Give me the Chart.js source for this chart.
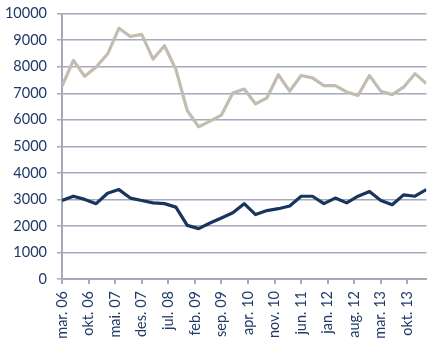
<!DOCTYPE html>
<html>
<head>
<meta charset="utf-8">
<script src="https://cdn.jsdelivr.net/npm/chart.js@4"></script>
<style>
  html, body { margin: 0; padding: 0; background: #fff; overflow: hidden; }
  #wrap { width: 432px; height: 353px; margin-top: -5px; }
</style>
</head>
<body>
<div id="wrap"><canvas id="chart"></canvas></div>
<script>
// Quarterly observations, mar. 06 to mar. 14
const quarters = [
  'mar. 06', 'jun. 06', 'sep. 06', 'des. 06',
  'mar. 07', 'jun. 07', 'sep. 07', 'des. 07',
  'mar. 08', 'jun. 08', 'sep. 08', 'des. 08',
  'mar. 09', 'jun. 09', 'sep. 09', 'des. 09',
  'mar. 10', 'jun. 10', 'sep. 10', 'des. 10',
  'mar. 11', 'jun. 11', 'sep. 11', 'des. 11',
  'mar. 12', 'jun. 12', 'sep. 12', 'des. 12',
  'mar. 13', 'jun. 13', 'sep. 13', 'des. 13',
  'mar. 14'
];

const upperSeries = [
  7270, 8240, 7640, 7990, 8480, 9450, 9140, 9220,
  8290, 8790, 7900, 6350, 5740, 5950, 6180, 7010,
  7160, 6600, 6830, 7700, 7080, 7670, 7580, 7290,
  7290, 7050, 6920, 7670, 7080, 6950, 7230, 7740,
  7370
];

const lowerSeries = [
  2960, 3120, 3000, 2840, 3230, 3370, 3050, 2960,
  2870, 2840, 2710, 2020, 1900, 2110, 2300, 2500,
  2840, 2430, 2580, 2650, 2750, 3120, 3120, 2840,
  3050, 2870, 3120, 3300, 2960, 2800, 3170, 3120,
  3370
];

// Axis labels, one every 7 months starting at mar. 06
const tickLabels = [
  'mar. 06', 'okt. 06', 'mai. 07', 'des. 07', 'jul. 08', 'feb. 09', 'sep. 09',
  'apr. 10', 'nov. 10', 'jun. 11', 'jan. 12', 'aug. 12', 'mar. 13', 'okt. 13'
];

const MONTHS_PER_QUARTER = 3;
const MONTHS_PER_TICK = 7;

const textColor = '#1F3A68';
const gridColor = '#A6A9BC';
const labelFont = { family: 'Lato', size: 14.5 };

function toPoints(values) {
  return values.map((v, i) => ({ x: i * MONTHS_PER_QUARTER, y: v }));
}

const ctx = document.getElementById('chart').getContext('2d');
new Chart(ctx, {
  type: 'line',
  data: {
    datasets: [
      {
        label: 'upper',
        data: toPoints(upperSeries),
        borderColor: '#C3BDB1',
        borderWidth: 3.2,
        pointRadius: 0,
        tension: 0,
        borderJoinStyle: 'round'
      },
      {
        label: 'lower',
        data: toPoints(lowerSeries),
        borderColor: '#17365D',
        borderWidth: 3.2,
        pointRadius: 0,
        tension: 0,
        borderJoinStyle: 'round'
      }
    ]
  },
  options: {
    responsive: true,
    maintainAspectRatio: false,
    animation: false,
    layout: { padding: { left: 0, right: 4, top: 6, bottom: 0 } },
    plugins: {
      legend: { display: false },
      tooltip: { enabled: false }
    },
    scales: {
      x: {
        type: 'linear',
        min: 0,
        max: (quarters.length - 1) * MONTHS_PER_QUARTER,
        afterBuildTicks: function(scale) {
          scale.ticks = tickLabels.map((_, i) => ({ value: i * MONTHS_PER_TICK }));
        },
        afterFit: function(scale) { scale.height = 69; },
        grid: {
          drawOnChartArea: false,
          drawTicks: true,
          tickLength: 5,
          color: gridColor,
          lineWidth: 2
        },
        border: { color: gridColor, width: 2 },
        ticks: {
          autoSkip: false,
          maxRotation: 90,
          minRotation: 90,
          padding: 7,
          color: textColor,
          font: labelFont,
          callback: function(value) {
            return tickLabels[Math.round(value / MONTHS_PER_TICK)];
          }
        }
      },
      y: {
        min: 0,
        max: 10000,
        afterFit: function(scale) { scale.width = 62; },
        ticks: {
          stepSize: 1000,
          padding: 10,
          color: textColor,
          font: labelFont,
          callback: function(value) { return String(value); }
        },
        grid: {
          color: gridColor,
          lineWidth: 1.5,
          tickLength: 5
        },
        border: { color: gridColor, width: 2 }
      }
    }
  }
});
</script>
</body>
</html>
